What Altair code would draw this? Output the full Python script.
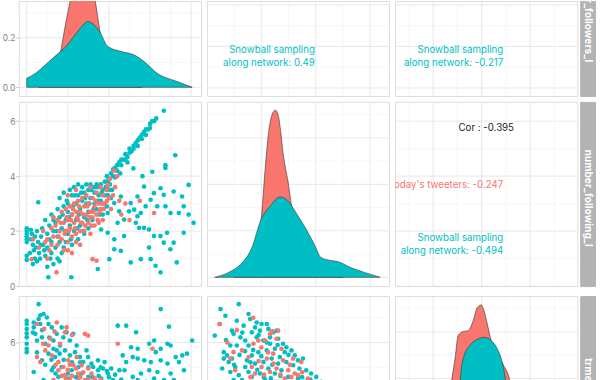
import altair as alt
import pandas as pd

RED = "#F8766D"
TEAL = "#00BFC4"
MAJOR = "#E2E2E2"
MINOR = "#EEEEEE"
FONT = "Inter"

# ---------------- data ----------------
groups = ["Random sample of today's tweeters", "Snowball sampling along network"]

# diagonal densities (x value, density)
dens1_red_x = [0.6, 1.1, 1.45, 1.69, 1.9, 2.12, 2.4, 2.7, 3.0, 3.33, 3.57, 3.8, 4.2, 4.8, 5.6]
dens1_red_y = [0.0, 0.02, 0.07, 0.162, 0.26, 0.352, 0.52, 0.6, 0.52, 0.352, 0.223, 0.13, 0.06, 0.02, 0.0]
dens1_teal_x = [0.0, 0.42, 0.9, 1.54, 1.86, 2.35, 2.67, 2.95, 3.23, 3.55, 3.95, 4.6, 5.24, 5.72, 6.36, 7.33, 8.05]
dens1_teal_y = [0.036, 0.056, 0.09, 0.137, 0.160, 0.211, 0.244, 0.265, 0.255, 0.224, 0.164, 0.144, 0.130, 0.103, 0.056, 0.023, 0.0]

dens2_red_x = [1.0, 1.5, 1.8, 2.01, 2.14, 2.28, 2.44, 2.52, 2.62, 2.72, 2.8, 2.89, 2.99, 3.11, 3.4, 3.8, 4.3, 5.0]
dens2_red_y = [0.0, 0.04, 0.13, 0.35, 0.614, 0.84, 0.943, 0.953, 0.925, 0.821, 0.708, 0.623, 0.538, 0.407, 0.2, 0.08, 0.02, 0.0]
dens2_teal_x = [0.29, 0.80, 1.27, 1.64, 2.0, 2.33, 2.69, 2.91, 3.35, 3.64, 3.97, 4.19, 4.55, 4.81, 5.28, 5.79, 6.37]
dens2_teal_y = [0.0, 0.028, 0.079, 0.164, 0.333, 0.407, 0.458, 0.446, 0.35, 0.277, 0.181, 0.113, 0.096, 0.09, 0.056, 0.028, 0.0]

dens3_red_x = [1.0, 2.0, 2.4, 2.6, 2.74, 2.91, 3.03, 3.24, 3.44, 3.65, 3.81, 3.98, 4.1, 4.23, 4.39, 4.6, 4.92, 5.1, 5.3, 5.6, 5.9, 6.4, 7.5]
dens3_red_y = [0.0, 0.03, 0.12, 0.3, 0.49, 0.65, 0.774, 0.797, 0.802, 0.859, 0.932, 0.949, 0.915, 0.842, 0.746, 0.68, 0.6, 0.55, 0.42, 0.22, 0.08, 0.02, 0.0]
dens3_teal_x = [1.0, 2.2, 2.6, 2.9, 3.1, 3.17, 3.28, 3.51, 3.79, 4.1, 4.4, 4.61, 4.79, 4.92, 5.02, 5.3, 5.6, 6.2, 7.8]
dens3_teal_y = [0.0, 0.04, 0.12, 0.3, 0.49, 0.595, 0.661, 0.718, 0.75, 0.764, 0.746, 0.708, 0.651, 0.576, 0.49, 0.3, 0.12, 0.03, 0.0]

# scatter: followers_l (x) vs number_following_l (y)
s21_teal = [(0,2.1),(0,2.0),(0,1.9),(0,1.8),(0,1.7),(0,1.6),(0,1.1),(0,0.95),
    (0.2,1.7),(0.25,1.9),(0.3,1.5),(0.35,1.3),(0.4,1.0),(0.5,0.9),(0.3,0.8),(0.6,1.2),(0.55,1.6),(0.5,2.0),(0.7,1.8),
    (0.8,1.5),(0.9,1.1),(1.0,0.7),(1.05,0.32),(0.56,3.05),(0.75,2.1),(0.9,2.4),(1.0,1.9),(1.1,2.2),(1.2,1.6),(1.2,2.6),
    (1.3,2.0),(1.4,1.4),(1.4,2.3),(1.5,2.8),(1.5,1.8),(1.6,2.5),(1.6,3.2),(1.7,2.1),(1.7,1.2),(1.8,2.9),(1.8,3.4),
    (1.9,2.4),(1.9,1.6),(2.0,3.0),(2.0,2.7),(2.0,1.9),(2.1,3.5),(2.1,2.2),(2.2,3.3),(2.2,2.6),(2.3,3.6),(2.3,2.0),
    (2.4,3.0),(2.4,2.4),(2.5,3.7),(2.5,3.3),(2.6,2.8),(2.6,2.2),(2.7,3.6),(2.7,3.1),(2.8,3.4),(2.8,2.5),(2.9,3.7),
    (2.9,3.0),(3.0,3.5),(3.0,2.7),(3.1,3.7),(3.1,3.2),(3.2,3.6),(3.2,2.4),(3.3,3.4),(3.3,3.0),(3.4,3.7),(3.4,2.8),
    (3.5,3.6),(3.5,3.3),(3.6,3.7),(3.6,3.1),(3.7,3.5),(3.7,2.6),(3.8,3.8),(3.8,3.3),(3.9,3.6),(3.9,2.9),(4.0,3.9),
    (4.0,3.5),(4.1,3.2),(2.17,0.32),(1.5,1.0),(1.3,0.8),(1.8,1.4),(2.2,1.5),(2.5,1.7),(2.8,1.9),(3.0,2.1),
    (4.1,4.1),(4.2,4.0),(4.3,4.3),(4.4,4.2),(4.5,4.5),(4.6,4.4),(4.7,4.6),(4.8,4.8),(4.9,4.7),(5.0,5.0),(5.1,4.9),
    (5.2,5.1),(5.3,5.2),(5.4,5.3),(5.5,5.4),(5.6,5.5),(5.7,5.6),(5.8,5.7),(5.9,5.7),(6.0,5.9),(6.1,6.0),(6.2,6.0),
    (6.3,6.1),(6.67,6.38),(4.55,4.1),(4.9,4.5),(3.9,4.0),(4.3,3.95),(4.2,4.25),(4.6,4.6),(5.0,4.85),(5.4,5.1),
    (5.8,5.5),(6.0,5.75),(3.95,3.8),(4.4,4.4),(4.8,4.6),(5.2,5.0),(5.6,5.35),
    (5.19,4.28),(5.63,4.0),(6.11,4.16),(6.75,4.4),(6.75,4.3),(6.19,3.38),(6.51,3.56),(6.67,3.32),(7.15,3.44),
    (7.23,4.76),(7.56,3.26),(7.64,2.9),(7.88,2.6),(8.12,2.3),(7.4,2.66),(7.0,2.66),(6.75,2.9),(6.35,2.9),(6.03,3.14),
    (5.79,2.9),(5.55,2.66),(5.39,2.54),(5.23,2.78),(5.06,3.02),(4.98,2.72),(5.31,2.3),(5.47,2.12),(5.71,2.12),
    (5.95,2.06),(6.19,1.82),(6.51,1.82),(6.67,1.58),(6.83,1.94),(6.99,1.34),(7.15,1.58),(6.03,0.98),(6.27,0.74),
    (5.55,0.98),(5.06,0.86),(4.26,1.34),(4.02,0.98),(3.46,0.62),(4.58,1.28),(4.74,1.82),(4.26,1.7),(3.94,1.94),
    (3.62,2.06),(4.42,2.3),(4.74,2.42),(6.51,0.5),(7.3,0.86),(5.95,1.4),(7.64,1.94),(7.88,3.68),(5.39,3.26),
    (5.71,3.62),(4.58,3.26),(4.26,3.02),(4.5,2.72),(3.94,2.66),
    (1.1,1.7),(1.3,2.4),(1.45,2.0),(1.6,1.6),(1.75,2.6),(1.85,2.0),(1.95,3.1),(2.05,2.5),(2.15,1.7),(2.25,2.9),
    (2.35,3.3),(2.45,2.1),(2.55,2.6),(2.65,3.4),(2.75,2.0),(2.85,3.2),(2.95,2.4),(3.05,3.0),(3.15,3.5),(3.25,2.8),
    (3.35,3.6),(3.45,3.1),(3.55,2.6),(3.65,3.4),(3.75,3.0),(3.85,3.6),(3.95,3.3),(4.05,3.7),(4.15,3.5),(0.15,1.2),
    (0.45,1.4),(0.65,1.0),(0.85,1.3),(1.15,1.0),(0.2,2.05),(0.4,1.8),(0.7,1.5),(1.0,1.4),(1.2,1.2),(1.6,0.9)]
s21_red = [(0.24,0.98),(0.3,1.7),(0.6,1.4),(0.8,2.0),(1.0,1.7),(1.1,1.3),(1.2,2.1),(1.3,1.8),(1.45,0.5),(1.5,2.4),
    (1.5,1.5),(1.6,2.0),(1.7,2.7),(1.7,1.7),(1.8,2.3),(1.8,1.3),(1.9,2.0),(1.9,2.8),(2.0,2.4),(2.0,1.6),(2.1,2.9),
    (2.1,2.1),(2.2,2.6),(2.2,1.8),(2.3,3.0),(2.3,2.3),(2.4,2.7),(2.4,1.9),(2.5,2.4),(2.5,3.1),(2.6,2.0),(2.6,2.7),
    (2.7,3.2),(2.7,2.3),(2.8,2.9),(2.8,2.0),(2.9,2.6),(2.9,3.3),(3.0,2.3),(3.0,3.0),(3.1,2.7),(3.1,1.9),(3.2,3.2),
    (3.2,2.5),(3.3,2.9),(3.3,2.2),(3.4,3.4),(3.4,2.6),(3.5,3.0),(3.5,2.3),(3.6,2.8),(3.7,3.3),(3.7,2.4),(3.8,3.0),
    (3.9,3.5),(3.94,3.68),(4.0,3.2),(4.1,2.8),(4.26,4.2),(4.3,3.6),(4.5,3.1),(4.8,3.0),(5.5,3.1),(6.2,2.66),
    (3.2,0.98),(3.4,0.92),(2.2,1.2),(2.6,1.5),(1.0,1.0),(4.6,2.6),(5.0,2.4),(1.3,2.5),(2.0,3.3),(2.4,3.5),(3.1,3.6),
    (3.6,3.6),(4.4,4.0),
    (1.4,2.2),(1.55,1.8),(1.65,2.3),(1.85,1.9),(1.95,2.5),(2.05,2.0),(2.15,2.4),(2.25,2.8),(2.35,2.1),(2.45,2.5),
    (2.55,2.9),(2.65,2.3),(2.75,2.6),(2.85,2.2),(2.95,2.9),(3.05,2.5),(3.15,2.2),(3.25,2.7),(3.35,3.1),(3.45,2.4),
    (3.55,2.7),(3.65,3.0),(3.75,2.8),(2.0,1.3),(2.4,1.6),(1.2,1.5),(0.9,1.6),(3.9,3.1),(4.2,3.3),(4.05,3.9)]

# scatter: followers_l (x) vs third variable (y)
s31_teal = [(0,6.88),(0,6.75),(0,6.55),(0,6.37),(0,6.21),(0,5.95),(0,5.75),(0,5.61),(0.58,7.55),(0.34,6.81),
    (0.34,6.61),(0.42,6.35),(0.58,6.95),(0.82,7.15),(0.98,7.01),(0.66,6.75),(1.06,6.75),(1.22,6.61),(0.74,6.21),
    (0.5,6.08),(0.9,5.95),(1.3,6.08),(1.46,6.35),(1.62,5.88),(1.78,6.21),(1.94,6.41),(2.1,6.08),(2.26,6.35),
    (1.86,5.68),(2.35,5.61),(2.59,5.41),(2.75,5.21),(1.38,5.41),(1.06,5.55),(0.74,5.28),(0.34,4.81),(0.82,4.48),
    (1.22,4.88),(1.7,5.01),(2.19,4.88),(2.67,4.75),(3.15,5.15),(3.47,4.88),(3.79,5.21),(3.95,4.75),(3.63,4.54),
    (3.31,4.48),(3.0,4.61),(2.51,4.41),(2.02,4.54),(1.54,4.61),(4.19,4.48),(4.43,4.34),
    (4.43,6.68),(4.84,6.68),(6.52,7.35),(6.92,6.64),(5.32,6.41),(5.96,5.95),(6.2,6.08),(6.85,5.95),(7.0,5.88),
    (8.05,6.08),(7.57,5.48),(7.8,5.55),(7.25,5.41),(6.52,5.75),(6.28,5.61),(5.08,5.81),(5.4,5.75),(5.16,5.41),
    (5.4,5.35),(4.67,5.48),(4.84,5.21),(5.72,5.28),(6.04,5.21),(6.52,5.28),(6.85,5.15),(7.41,5.21),(5.96,4.88),
    (6.36,4.81),(7.0,4.75),(7.65,4.88),(5.56,4.75),(5.16,4.61),(4.76,4.88),(5.4,4.48),(5.8,4.41),(6.2,4.54),
    (6.68,4.48),(7.16,4.48),(6.44,4.34),(5.08,4.34),(4.51,4.88),(4.11,4.95),(3.47,5.28),(2.99,5.41),(2.43,5.88),
    (1.7,6.61),(1.46,5.68),(2.1,5.48),(2.91,5.68),(3.23,5.01),(3.71,4.95),(2.3,4.3),(2.8,4.35),(3.3,4.3),(3.8,4.4),
    (1.9,4.35),(2.5,5.0),(3.0,5.0),(3.5,4.65),(4.0,4.6),(1.3,5.0),(1.8,5.3),(2.2,5.2),(0.66,7.1),
    (1.7,4.4),(2.0,4.75),(2.4,4.6),(2.6,5.2),(2.9,4.45),(3.2,4.6),(3.5,4.35),(3.9,4.85),(1.4,4.75),(1.2,5.3),
    (1.6,5.55),(0.9,5.1),(0.5,5.6),(0.3,6.4),(0.75,6.5),(1.1,6.2),(1.3,5.75),(4.3,4.7),(4.6,4.5),(3.6,5.0)]
s31_red = [(0.5,6.75),(1.46,6.81),(1.94,6.61),(2.83,6.35),(2.99,6.28),(1.86,6.41),(1.62,5.95),(1.06,5.88),(0.9,5.68),
    (0.66,5.21),(1.22,5.48),(1.54,5.21),(1.78,5.01),(2.02,5.28),(2.27,5.08),(2.51,4.75),(1.86,4.68),(2.1,4.48),
    (2.35,4.34),(2.83,4.48),(3.15,4.75),(3.47,4.41),(3.95,4.34),(2.67,5.08),(2.43,5.41),(2.99,4.95),(1.54,4.88),
    (1.3,4.48),(4.43,5.95),(6.12,5.75),(0.5,5.41),(2.6,4.3),(3.1,4.35),(2.0,4.9),
    (1.9,4.55),(2.2,4.65),(2.5,4.45),(2.75,4.8),(3.0,4.5),(3.3,4.55),(2.4,4.95),(1.7,4.65),(2.1,5.1),(1.4,5.1),
    (2.6,4.6),(3.6,4.5),(0.8,5.95),(1.15,6.15),(1.35,6.45),(2.2,6.3),(0.85,6.55)]

# scatter: number_following_l (x) vs third variable (y)
s32_teal = [(0.5,7.35),(1.17,7.55),(0.68,7.08),(1.53,7.15),(0.29,6.28),(0.47,6.75),(0.92,6.48),(0.98,6.35),
    (1.1,6.88),(1.35,6.68),(1.59,6.95),(1.83,6.81),(2.01,6.75),(2.2,6.75),(1.77,6.61),(1.65,6.41),(1.95,6.48),
    (2.26,6.55),(2.44,6.41),(2.56,6.48),(1.23,6.21),(1.41,6.08),(1.53,5.88),(1.1,5.88),(0.86,5.88),(0.62,5.61),
    (0.74,5.48),(0.92,5.35),(0.8,5.21),(0.56,4.95),(0.86,4.81),(1.04,5.01),(1.17,4.68),(1.29,4.48),(0.98,4.48),
    (1.83,6.21),(2.08,6.08),(2.32,6.21),(2.62,6.15),(2.8,5.95),(2.92,5.81),(3.11,5.68),(3.23,5.48),(3.35,5.28),
    (3.53,5.35),(2.5,5.75),(2.2,5.68),(1.89,5.61),(1.65,5.48),(1.47,5.28),(1.77,5.15),(2.08,5.21),(2.38,5.35),
    (2.68,5.41),(2.92,5.21),(3.17,5.08),(3.4,4.95),(3.65,4.88),(3.83,4.75),(4.02,4.61),(4.2,4.41),(2.74,4.88),
    (2.5,4.75),(2.26,4.95),(1.95,4.75),(1.65,4.61),(2.14,4.48),(2.62,4.41),(2.99,4.61),(3.35,4.54),(3.59,4.41),
    (3.11,4.34),(1.53,4.81),(1.41,5.01),(2.62,5.15),(2.86,5.61),(2.32,5.95),(0.62,5.35),
    (1.0,5.1),(1.2,5.5),(1.4,5.65),(1.6,5.2),(1.85,4.9),(2.1,4.6),(2.35,4.55),(2.7,4.65),(2.95,4.4),(3.25,4.3),
    (3.5,4.6),(3.8,4.5),(2.4,5.1),(2.0,5.45),(1.7,5.7),(1.3,6.4),(1.9,6.3),(2.2,6.0),(2.6,5.9),(3.0,5.5),(0.7,6.1)]
s32_red = [(0.47,6.75),(0.98,5.61),(0.86,5.35),(1.7,7.0),(2.14,6.08),(2.32,6.35),(2.56,6.15),(2.74,5.75),(2.44,5.55),
    (2.2,5.35),(2.01,5.01),(2.32,4.81),(2.56,4.95),(2.8,5.28),(2.99,4.88),(3.23,4.75),(3.35,4.68),(2.86,4.54),
    (2.5,4.41),(2.08,4.41),(1.77,4.75),(1.65,5.01),(1.53,5.41),(1.29,5.68),(1.04,4.88),(1.89,6.08),(1.71,5.95),
    (3.47,5.21),(3.17,5.35),(3.71,4.54),(3.9,4.41),(2.62,6.48),
    (1.9,5.25),(2.1,4.7),(2.45,5.15),(2.7,4.7),(2.9,4.35),(3.05,5.1),(2.25,5.6),(1.6,4.6),(1.4,4.35),(3.5,4.8),
    (2.0,5.8),(2.4,6.45),(1.1,6.5),(0.75,6.0),(3.1,4.6)]

# correlation texts: (x, y of first line, label)
cor_12 = [(3.97, 1.82, "Snowball sampling\nalong network: 0.49")]
cor_13 = [(4.89, 1.82, "Snowball sampling\nalong network: -0.217")]
cor_23_all = [(4.19, 5.76, "Cor : -0.395")]
cor_23_red = [(4.89, 3.67, "Sample of today's tweeters: -0.247")]
cor_23_teal = [(4.89, 1.765, "Snowball sampling\nalong network: -0.494")]

# strip labels: (y, label)
strip1 = [(1.24, "number_followers_l")]
strip2 = [(3.2, "number_following_l")]
strip3 = [(5.36, "trmean_l")]

# axis domains (visible part of each panel)
V1 = [-0.385, 8.48]
V2 = [0.0, 6.7]
V3 = [0.43, 7.94]
V1_ROW1 = [-0.385, 4.19]
V3_ROW3 = [4.28, 7.88]
DEN1 = [-0.035, 0.348]
DEN2 = [-0.05, 1.0]
DEN3 = [0.492, 1.0]

G_V1 = ([0, 2, 4, 6, 8], [1, 3, 5, 7])
G_V2 = ([0, 2, 4, 6], [1, 3, 5])
G_V3 = ([2, 4, 6, 8], [1, 3, 5, 7])
G_DEN1 = ([0.0, 0.2], [0.1, 0.3])
G_DEN = ([0.0, 0.265, 0.53, 0.795], [0.1325, 0.3975, 0.6625, 0.9275])

# ---------------- helpers ----------------
W = 184
H1, H2, H3 = 96, 186, 90
TXT = 9.8


def sc(dom):
    return alt.Scale(domain=dom, nice=False, zero=False)


def yaxis(vals, fmt):
    return alt.Axis(values=vals, format=fmt, labelFontSize=8.5, labelColor="#7F7F7F",
                    tickColor="#B3B3B3", tickSize=3, tickWidth=0.8, labelPadding=1,
                    domain=False, grid=False, title=None, minExtent=20, maxExtent=20)


def grids(xs, ys, xg, yg, yax=None):
    out = []
    if yax is not None:
        out.append(alt.Chart(pd.DataFrame({"g": yg[0]})).mark_rule(color=MAJOR, strokeWidth=0.8, clip=True)
                   .encode(y=alt.Y("g:Q", scale=ys, axis=yax)))
    else:
        out.append(alt.Chart(pd.DataFrame({"g": yg[0]})).mark_rule(color=MAJOR, strokeWidth=0.8, clip=True)
                   .encode(y=alt.Y("g:Q", scale=ys, axis=None)))
    out.append(alt.Chart(pd.DataFrame({"g": yg[1]})).mark_rule(color=MINOR, strokeWidth=0.5, clip=True)
               .encode(y=alt.Y("g:Q", scale=ys, axis=None)))
    for vals, col, w in ((xg[1], MINOR, 0.5), (xg[0], MAJOR, 0.8)):
        out.append(alt.Chart(pd.DataFrame({"g": vals})).mark_rule(color=col, strokeWidth=w, clip=True)
                   .encode(x=alt.X("g:Q", scale=xs, axis=None)))
    return out


def scat(xs, ys, pts, color):
    df = pd.DataFrame(pts, columns=["x", "y"])
    return alt.Chart(df).mark_circle(size=22, opacity=1, color=color, clip=True).encode(
        x=alt.X("x:Q", scale=xs, axis=None), y=alt.Y("y:Q", scale=ys, axis=None))


def dens(xs, ys, xv, yv, color):
    df = pd.DataFrame({"x": xv, "d": yv})
    return alt.Chart(df).mark_area(color=color, opacity=1, stroke="#333333", strokeWidth=0.6,
                                   interpolate="monotone", clip=True).encode(
        x=alt.X("x:Q", scale=xs, axis=None), y=alt.Y("d:Q", scale=ys, axis=None), y2=alt.datum(0))


def txt(xs, ys, rows, color, align):
    df = pd.DataFrame(rows, columns=["x", "y", "t"])
    return alt.Chart(df).mark_text(color=color, align=align, baseline="middle", fontSize=TXT,
                                   lineBreak="\n", lineHeight=13.5, clip=True).encode(
        x=alt.X("x:Q", scale=xs, axis=None), y=alt.Y("y:Q", scale=ys, axis=None), text="t:N")


def strip(rows, dom, h, align):
    df = pd.DataFrame(rows, columns=["y", "t"])
    df["x"] = 0.5
    return alt.Chart(df).mark_text(angle=90, color="white", fontWeight="bold", fontSize=10.3,
                                   align=align, baseline="middle", clip=True).encode(
        x=alt.X("x:Q", scale=sc([0, 1]), axis=None), y=alt.Y("y:Q", scale=sc(dom), axis=None),
        text="t:N").properties(width=15, height=h,
                               view=alt.ViewBackground(fill="#B3B3B3", stroke="#B3B3B3"))


# ---------------- panels ----------------
# row 1
xs, ys = sc(V1), sc(DEN1)
p11 = alt.layer(*grids(xs, ys, G_V1, G_DEN1, yaxis(G_DEN1[0], ".1f")),
                dens(xs, ys, dens1_red_x, dens1_red_y, RED),
                dens(xs, ys, dens1_teal_x, dens1_teal_y, TEAL)).resolve_axis(y="independent").properties(width=W, height=H1)
xs, ys = sc(V2), sc(V1_ROW1)
p12 = alt.layer(*grids(xs, ys, G_V2, G_V1), txt(xs, ys, cor_12, TEAL, "right")).properties(width=W, height=H1)
xs, ys = sc(V3), sc(V1_ROW1)
p13 = alt.layer(*grids(xs, ys, G_V3, G_V1), txt(xs, ys, cor_13, TEAL, "right")).properties(width=W, height=H1)

# row 2
xs, ys = sc(V1), sc(V2)
p21 = alt.layer(*grids(xs, ys, G_V1, G_V2, yaxis(G_V2[0], "d")),
                scat(xs, ys, s21_teal, TEAL), scat(xs, ys, s21_red, RED)).resolve_axis(y="independent").properties(width=W, height=H2)
xs, ys = sc(V2), sc(DEN2)
p22 = alt.layer(*grids(xs, ys, G_V2, G_DEN),
                dens(xs, ys, dens2_red_x, dens2_red_y, RED),
                dens(xs, ys, dens2_teal_x, dens2_teal_y, TEAL)).properties(width=W, height=H2)
xs, ys = sc(V3), sc(V2)
p23 = alt.layer(*grids(xs, ys, G_V3, G_V2),
                txt(xs, ys, cor_23_all, "#222222", "center"),
                txt(xs, ys, cor_23_red, RED, "right"),
                txt(xs, ys, cor_23_teal, TEAL, "right")).properties(width=W, height=H2)

# row 3
xs, ys = sc(V1), sc(V3_ROW3)
p31 = alt.layer(*grids(xs, ys, G_V1, G_V3, yaxis(G_V3[0], "d")),
                scat(xs, ys, s31_teal, TEAL), scat(xs, ys, s31_red, RED)).resolve_axis(y="independent").properties(width=W, height=H3)
xs, ys = sc(V2), sc(V3_ROW3)
p32 = alt.layer(*grids(xs, ys, G_V2, G_V3),
                scat(xs, ys, s32_teal, TEAL), scat(xs, ys, s32_red, RED)).properties(width=W, height=H3)
xs, ys = sc(V3), sc(DEN3)
p33 = alt.layer(*grids(xs, ys, G_V3, G_DEN),
                dens(xs, ys, dens3_red_x, dens3_red_y, RED),
                dens(xs, ys, dens3_teal_x, dens3_teal_y, TEAL)).properties(width=W, height=H3)

row1 = alt.hconcat(alt.hconcat(p11, p12, p13, spacing=4), strip(strip1, V1_ROW1, H1, "right"), spacing=1)
row2 = alt.hconcat(alt.hconcat(p21, p22, p23, spacing=4), strip(strip2, V2, H2, "center"), spacing=1)
row3 = alt.hconcat(alt.hconcat(p31, p32, p33, spacing=4), strip(strip3, V3_ROW3, H3, "left"), spacing=1)

chart = alt.vconcat(row1, row2, row3, spacing=4).properties(
    padding={"left": -2, "right": 4, "top": -2, "bottom": 0}
).configure_view(stroke="#D4D4D4", strokeWidth=1).configure(font=FONT, background="white")

chart.save("out.html", embed_options={"renderer": "svg", "actions": False})
